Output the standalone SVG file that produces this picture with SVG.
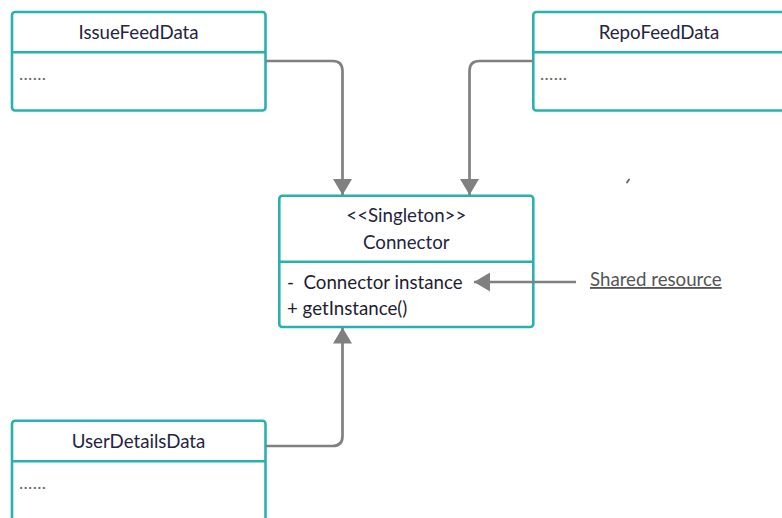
<svg xmlns="http://www.w3.org/2000/svg" width="782" height="518" viewBox="0 0 782 518">
  <style>
    .box { fill: #ffffff; stroke: #27b2ad; stroke-width: 2.6; }
    .div { stroke: #27b2ad; stroke-width: 2.6; fill: none; }
    .title { font-family: Lato, "Open Sans", sans-serif; font-size: 18.7px; fill: #252540; text-anchor: middle; }
    .member { font-family: Lato, "Open Sans", sans-serif; font-size: 18.7px; fill: #1e1e30; }
    .dots { font-family: Lato, "Open Sans", sans-serif; font-size: 18px; fill: #666666; letter-spacing: 0.3px; }
    .link { fill: none; stroke: #808080; stroke-width: 2.7; }
    .note { font-family: Lato, "Open Sans", sans-serif; font-size: 18.7px; fill: #555555; text-decoration: underline; }
  </style>
  <defs>
    <marker id="arrow" viewBox="0 0 16 19" refX="16" refY="9.5" markerWidth="16" markerHeight="19" markerUnits="userSpaceOnUse" orient="auto">
      <path d="M0,0 L16,9.5 L0,19 Z" fill="#808080"/>
    </marker>
  </defs>

  <rect width="782" height="518" fill="#ffffff"/>

  <!-- IssueFeedData -->
  <g id="issue-feed-data">
    <rect class="box" x="12" y="12" width="253.5" height="98.5" rx="3"/>
    <line class="div" x1="12" y1="52.3" x2="265.5" y2="52.3"/>
    <text class="title" x="138.5" y="39.3">IssueFeedData</text>
    <text class="dots" x="19" y="80">......</text>
  </g>

  <!-- RepoFeedData -->
  <g id="repo-feed-data">
    <rect class="box" x="533.3" y="12" width="270" height="98.5" rx="3"/>
    <line class="div" x1="533.3" y1="52.3" x2="790" y2="52.3"/>
    <text class="title" x="659" y="39.3">RepoFeedData</text>
    <text class="dots" x="540" y="80">......</text>
  </g>

  <!-- stray mark -->
  <line x1="627" y1="182.5" x2="629" y2="179.5" stroke="#707070" stroke-width="2" stroke-linecap="round"/>

  <!-- Connector singleton -->
  <g id="connector">
    <rect class="box" x="279.3" y="195.7" width="254" height="131.3" rx="3"/>
    <line class="div" x1="279.3" y1="261.7" x2="533.3" y2="261.7"/>
    <text class="title" x="406.3" y="222">&lt;&lt;Singleton&gt;&gt;</text>
    <text class="title" x="406.3" y="248.5">Connector</text>
    <text class="member" x="287" y="289" xml:space="preserve">-  Connector instance</text>
    <text class="member" x="287" y="315">+ getInstance()</text>
  </g>

  <!-- note -->
  <g id="shared-resource">
    <text class="note" x="590" y="286">Shared resource</text>
  </g>

  <!-- UserDetailsData -->
  <g id="user-details-data">
    <rect class="box" x="12" y="420.7" width="253.5" height="120" rx="3"/>
    <line class="div" x1="12" y1="461.3" x2="265.5" y2="461.3"/>
    <text class="title" x="138.5" y="448">UserDetailsData</text>
    <text class="dots" x="19" y="489">......</text>
  </g>

  <!-- connectors (drawn last so the note arrow shows inside the class box) -->
  <g id="connectors">
    <path class="link" d="M266,61 H332.5 Q342.5,61 342.5,71 V195" marker-end="url(#arrow)"/>
    <path class="link" d="M533,61 H479.5 Q469.5,61 469.5,71 V195" marker-end="url(#arrow)"/>
    <path class="link" d="M266,446 H332.5 Q342.5,446 342.5,436 V327.5" marker-end="url(#arrow)"/>
    <path class="link" d="M576,282 H474" marker-end="url(#arrow)"/>
  </g>
</svg>
